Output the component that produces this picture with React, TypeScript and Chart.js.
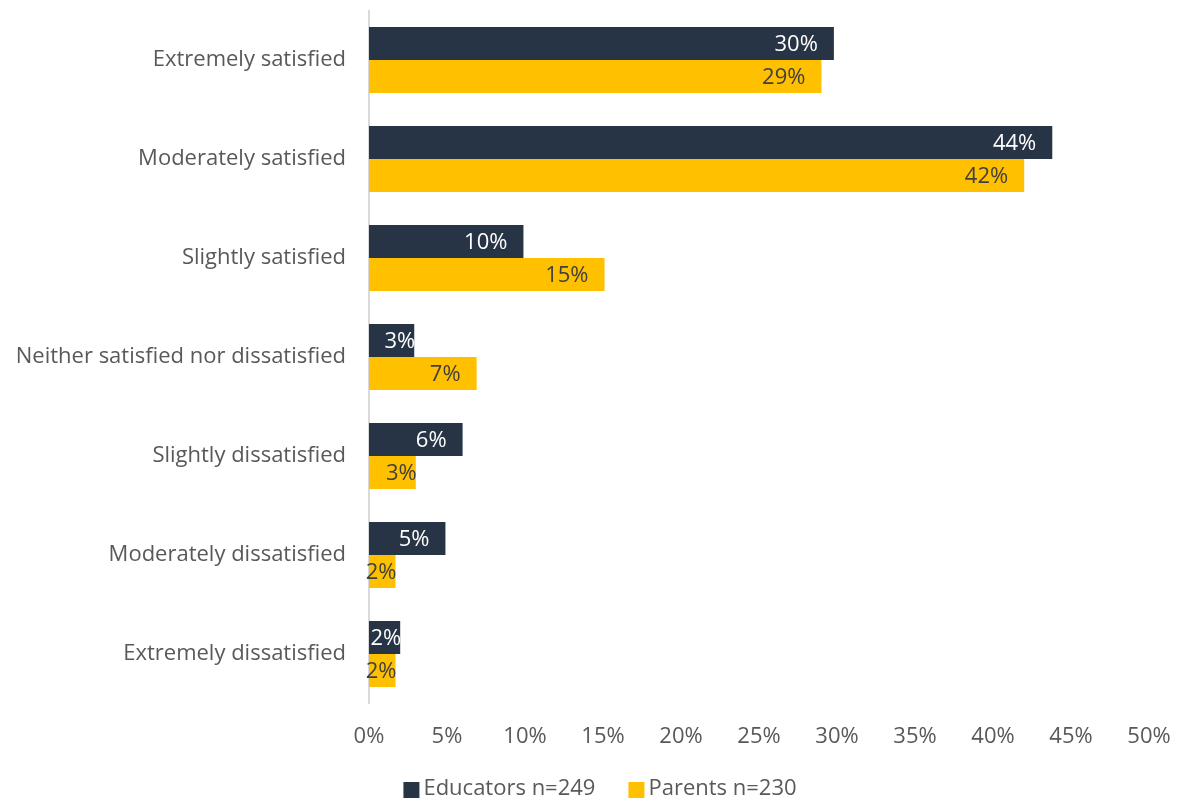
import React, { useEffect, useRef } from "react";
import { Chart, registerables } from "chart.js";

Chart.register(...registerables);

const categories = [
  "Extremely satisfied",
  "Moderately satisfied",
  "Slightly satisfied",
  "Neither satisfied nor dissatisfied",
  "Slightly dissatisfied",
  "Moderately dissatisfied",
  "Extremely dissatisfied",
];
const educatorsLabel = "Educators n=249";
const parentsLabel = "Parents n=230";
const educators = [29.8, 43.8, 9.9, 2.9, 6.0, 4.9, 2.0];
const parents = [29.0, 42.0, 15.1, 6.9, 3.0, 1.7, 1.7];
const xTicks = [0, 5, 10, 15, 20, 25, 30, 35, 40, 45, 50];

const NAVY = "#263445";
const YELLOW = "#FFC000";
const GRAY = "#595959";
const FONT = '"Open Sans", sans-serif';
const FS = 22;
const labelColors = ["#ffffff", "#404040"];

const barLabels = {
  id: "barLabels",
  afterDatasetsDraw(chart: any) {
    const ctx = chart.ctx;
    ctx.save();
    ctx.font = `${FS}px ${FONT}`;
    ctx.textBaseline = "middle";
    ctx.textAlign = "right";
    chart.data.datasets.forEach((ds: any, di: number) => {
      const meta = chart.getDatasetMeta(di);
      meta.data.forEach((bar: any, i: number) => {
        const v = ds.data[i];
        const text = Math.round(v) + "%";
        const w = ctx.measureText(text).width;
        const end = bar.x;
        const base = bar.base;
        let right = end - 16;
        if (end - base < w + 20) right = end + 1;
        ctx.fillStyle = labelColors[di];
        ctx.fillText(text, right, bar.y + 1);
      });
    });
    ctx.restore();
  },
};

const customLegend = {
  id: "customLegend",
  afterDraw(chart: any) {
    const ctx = chart.ctx;
    ctx.save();
    ctx.font = `${FS}px ${FONT}`;
    ctx.textBaseline = "middle";
    ctx.textAlign = "left";
    const items = chart.data.datasets.map((d: any) => ({
      text: d.label,
      color: d.backgroundColor,
    }));
    const box = 16;
    const gapBox = 4;
    const gapItem = 33;
    const widths = items.map((it: any) => box + gapBox + ctx.measureText(it.text).width);
    const total = widths.reduce((a: number, b: number) => a + b, 0) + gapItem * (items.length - 1);
    let x = chart.width / 2 + 11 - total / 2;
    const y = 789;
    items.forEach((it: any, i: number) => {
      ctx.fillStyle = it.color;
      ctx.fillRect(x, y - box / 2 + 1, box, box);
      ctx.fillStyle = GRAY;
      ctx.fillText(it.text, x + box + gapBox, y);
      x += widths[i] + gapItem;
    });
    ctx.restore();
  },
};

export default function App() {
  const ref = useRef<HTMLCanvasElement>(null);
  useEffect(() => {
    if (!ref.current) return;
    const chart = new Chart(ref.current, {
      type: "bar",
      data: {
        labels: categories,
        datasets: [
          {
            label: educatorsLabel,
            data: educators,
            backgroundColor: NAVY,
            categoryPercentage: 0.667,
            barPercentage: 1,
          },
          {
            label: parentsLabel,
            data: parents,
            backgroundColor: YELLOW,
            categoryPercentage: 0.667,
            barPercentage: 1,
          },
        ],
      },
      options: {
        indexAxis: "y",
        animation: false,
        responsive: false,
        maintainAspectRatio: false,
        layout: { padding: { top: 10.5, right: 29, bottom: 29, left: 0 } },
        plugins: {
          legend: { display: false },
          tooltip: { enabled: false },
        },
        scales: {
          x: {
            min: 0,
            max: 50,
            afterBuildTicks: (scale: any) => {
              scale.ticks = xTicks.map((v) => ({ value: v }));
            },
            afterFit: (scale: any) => {
              scale.paddingLeft = 0;
              scale.paddingRight = 0;
            },
            grid: { display: false, drawTicks: false },
            border: { display: false },
            ticks: {
              padding: 20,
              color: GRAY,
              font: { family: FONT, size: FS },
              callback: (v: any) => v + "%",
            },
          },
          y: {
            afterFit: (scale: any) => {
              scale.width = 369;
              scale.paddingTop = 0;
              scale.paddingBottom = 0;
            },
            grid: { display: false, drawTicks: false },
            border: { display: true, color: "#d9d9d9", width: 2 },
            ticks: {
              padding: 23,
              color: GRAY,
              font: { family: FONT, size: FS },
            },
          },
        },
      },
      plugins: [barLabels, customLegend],
    });
    return () => chart.destroy();
  }, []);
  return (
    <div style={{ position: "absolute", left: 0, top: 0, width: 1178, height: 799 }}>
      <canvas ref={ref} width={1178} height={799} style={{ width: 1178, height: 799 }} />
    </div>
  );
}
